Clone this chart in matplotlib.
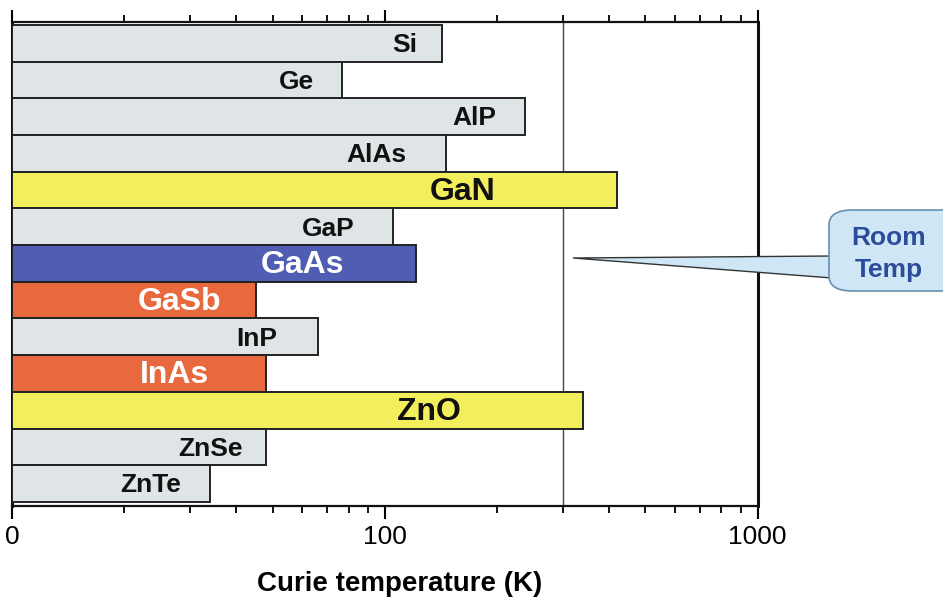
import matplotlib
matplotlib.use("Agg")
import matplotlib.pyplot as plt
from matplotlib.patches import FancyBboxPatch, Polygon
from matplotlib.ticker import FixedLocator, LogLocator, NullFormatter

# Curie temperatures (K), top to bottom
materials = ["Si", "Ge", "AlP", "AlAs", "GaN", "GaP", "GaAs",
             "GaSb", "InP", "InAs", "ZnO", "ZnSe", "ZnTe"]
curie_k = [142, 77, 238, 146, 420, 105, 121, 45, 66, 48, 341, 48, 34]
kind = ["grey", "grey", "grey", "grey", "yellow", "grey", "blue",
        "orange", "grey", "orange", "yellow", "grey", "grey"]
room_temp = 300
tick_values = [10, 100, 1000]
tick_labels = ["0", "100", "1000"]

# where each label sits along the bar (fraction of bar length in log space)
label_frac = [0.915, 0.86, 0.90, 0.84, 0.745, 0.83, 0.72,
              0.69, 0.80, 0.64, 0.73, 0.78, 0.70]

fill = {"grey": "#dfe4e7", "yellow": "#f3ee5c", "blue": "#4f5eb2", "orange": "#e9693e"}
text_col = {"grey": "#111111", "yellow": "#111111", "blue": "white", "orange": "white"}
text_size = {"grey": 19, "yellow": 23, "blue": 23, "orange": 23}

plt.rcParams["font.family"] = ["Liberation Sans", "DejaVu Sans"]

fig = plt.figure(figsize=(9.43, 5.99), dpi=100)
ax = fig.add_axes([0.0127, 0.1553, 0.7907, 0.808])

ax.set_xscale("log")
base = 10
for i, (name, t, k) in enumerate(zip(materials, curie_k, kind)):
    ax.barh(i, t - base, left=base, height=1.0, color=fill[k],
            edgecolor="#222222", linewidth=1.4, zorder=3)
    lx = base * (t / base) ** label_frac[i]
    ax.text(lx, i + 0.05, name, ha="center", va="center", fontweight="bold",
            fontsize=text_size[k], color=text_col[k], zorder=4)

ax.axvline(room_temp, color="#444444", linewidth=1.0, zorder=2)

ax.set_xlim(10, 1000)
ax.set_ylim(12.61, -0.58)
ax.set_yticks([])

ax.xaxis.set_major_locator(FixedLocator(tick_values))
ax.set_xticklabels(tick_labels, fontsize=19)
ax.xaxis.set_minor_locator(LogLocator(base=10, subs=range(2, 10)))
ax.xaxis.set_minor_formatter(NullFormatter())
ax.tick_params(axis="x", which="major", direction="out", length=9, width=1.5,
               top=True, bottom=True, pad=5)
ax.tick_params(axis="x", which="minor", direction="out", length=5, width=1.3,
               top=True, bottom=True)
for side, lw in [("left", 2.2), ("right", 2.2), ("top", 1.6), ("bottom", 1.6)]:
    ax.spines[side].set_linewidth(lw)
    ax.spines[side].set_color("#111111")

ax.set_xlabel("Curie temperature (K)", fontsize=20, fontweight="bold")
ax.xaxis.set_label_coords(0.52, -0.135)

# "Room Temp" callout, drawn in figure pixels
W, H = 943, 599
def fx(x):
    return x / W
def fy(y):
    return 1 - y / H

wedge = Polygon([(fx(573), fy(258)), (fx(832), fy(256)), (fx(832), fy(278))],
                closed=True, transform=fig.transFigure, facecolor="#cfe6f6",
                edgecolor="#333333", linewidth=1.0, zorder=5)
fig.add_artist(wedge)
box = FancyBboxPatch((fx(829), fy(291)), fx(140), 81 / H,
                     boxstyle="round,pad=0,rounding_size=0.025",
                     transform=fig.transFigure, facecolor="#cfe6f6",
                     edgecolor="#6a8fae", linewidth=1.2, zorder=6)
fig.add_artist(box)
fig.text(fx(889), fy(238), "Room", ha="center", va="center", fontsize=19,
         color="#2b4c9b", fontweight="bold", zorder=7)
fig.text(fx(889), fy(270), "Temp", ha="center", va="center", fontsize=19,
         color="#2b4c9b", fontweight="bold", zorder=7)

fig.savefig("out.png", dpi=100)
